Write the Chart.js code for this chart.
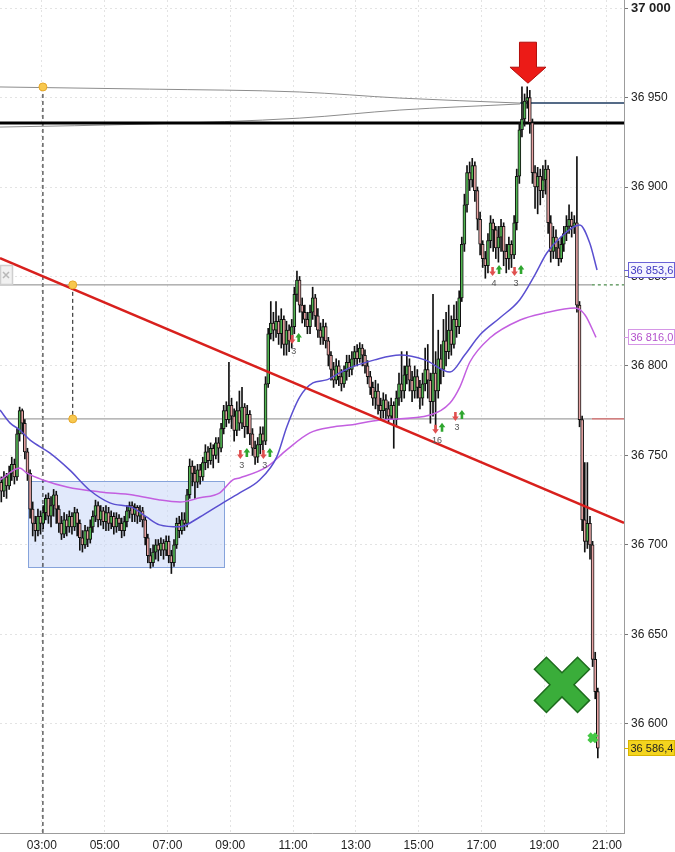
<!DOCTYPE html>
<html>
<head>
<meta charset="utf-8">
<script src="https://cdn.jsdelivr.net/npm/chart.js@4.4.1/dist/chart.umd.min.js"></script>
<style>
  html, body { margin: 0; padding: 0; background: #fff; }
  #wrap { width: 675px; height: 852px; }
</style>
</head>
<body>
<div id="wrap"><canvas id="chart" width="675" height="852"></canvas></div>
<script>
// 5 minute candles, the first one opens at 01:40 (minutes after midnight)
const firstCandleMin = 100;
const candleMinutes = 5;
const firstOpen = 36735;

const closes = [
  36730, 36738, 36733, 36740, 36745, 36738, 36762, 36775, 36768, 36752, 36740, 36720,
  36712, 36708, 36716, 36712, 36718, 36726, 36716, 36722, 36728, 36720, 36712, 36706,
  36714, 36710, 36716, 36710, 36718, 36712, 36704, 36700, 36708, 36703, 36710, 36716,
  36722, 36714, 36719, 36713, 36718, 36712, 36716, 36710, 36715, 36712, 36708, 36713,
  36719, 36722, 36717, 36721, 36716, 36719, 36714, 36704, 36694, 36690, 36696, 36700,
  36697, 36701, 36697, 36702, 36694, 36690, 36700, 36712, 36708, 36714, 36712, 36728,
  36744, 36740, 36735, 36742, 36738, 36746, 36752, 36747, 36754, 36750, 36757, 36754,
  36765, 36775, 36770, 36778, 36772, 36764, 36775, 36768, 36777, 36766, 36773, 36762,
  36754, 36749, 36756, 36762, 36758, 36790, 36818, 36824, 36820, 36825, 36818, 36826,
  36812, 36820, 36814, 36822, 36840, 36848, 36834, 36830, 36826, 36822, 36830, 36838,
  36828, 36820, 36816, 36822, 36814, 36806, 36798, 36792, 36800, 36794, 36790, 36797,
  36802, 36798, 36804, 36808, 36804, 36810, 36806, 36800, 36794, 36788, 36782, 36786,
  36778, 36775, 36781, 36776, 36772, 36778, 36770, 36782, 36790, 36786, 36795, 36800,
  36792, 36786, 36794, 36788, 36782, 36790, 36798, 36792, 36780, 36796, 36786, 36804,
  36798, 36814, 36808, 36820, 36812, 36826, 36822, 36838, 36868, 36890, 36908, 36904,
  36912, 36898, 36882, 36868, 36860, 36856, 36870, 36880, 36876, 36866, 36872, 36878,
  36864, 36860, 36868, 36862, 36880, 36906, 36932, 36938, 36948, 36950, 36936, 36908,
  36900, 36906, 36898, 36904, 36910, 36880, 36864, 36872, 36866, 36860, 36868, 36874,
  36878, 36882, 36878, 36880, 36834, 36770, 36714, 36702, 36712, 36700, 36636, 36618, 36586.4
];
const highs = [
  36738, 36741, 36740, 36744, 36749, 36748, 36765, 36777, 36776, 36770, 36754, 36742,
  36724, 36716, 36720, 36719, 36722, 36728, 36729, 36727, 36731, 36730, 36722, 36716,
  36718, 36717, 36719, 36718, 36721, 36720, 36714, 36708, 36711, 36710, 36714, 36719,
  36725, 36724, 36722, 36721, 36722, 36721, 36719, 36718, 36718, 36717, 36715, 36716,
  36722, 36724, 36724, 36723, 36722, 36722, 36721, 36716, 36706, 36698, 36700, 36703,
  36703, 36704, 36703, 36705, 36705, 36697, 36703, 36715, 36716, 36718, 36718, 36731,
  36748, 36747, 36744, 36745, 36745, 36749, 36756, 36755, 36757, 36756, 36760, 36760,
  36768, 36778, 36780, 36802, 36782, 36776, 36780, 36786, 36788, 36779, 36778, 36775,
  36765, 36758, 36760, 36766, 36766, 36794, 36821, 36836, 36830, 36836, 36828, 36832,
  36828, 36825, 36823, 36826, 36844, 36853, 36850, 36838, 36834, 36830, 36834, 36844,
  36840, 36832, 36824, 36826, 36824, 36816, 36808, 36802, 36804, 36803, 36798, 36800,
  36806, 36806, 36808, 36811, 36812, 36813, 36812, 36809, 36803, 36797, 36791, 36792,
  36790, 36782, 36785, 36784, 36780, 36782, 36780, 36786, 36796, 36808, 36800, 36808,
  36804, 36797, 36800, 36798, 36792, 36796, 36810, 36812, 36796, 36840, 36808, 36820,
  36812, 36826, 36830, 36834, 36828, 36834, 36836, 36842, 36872, 36896, 36912, 36914,
  36916, 36914, 36900, 36886, 36870, 36864, 36874, 36884, 36882, 36878, 36878, 36882,
  36880, 36868, 36872, 36870, 36884, 36910, 36936, 36956, 36952, 36956, 36954, 36938,
  36912, 36911, 36910, 36912, 36915, 36912, 36884, 36878, 36876, 36870, 36872, 36878,
  36884, 36890, 36886, 36884, 36917, 36836, 36772, 36746, 36746, 36716, 36702, 36640, 36620
];
const lows = [
  36724, 36727, 36726, 36731, 36736, 36734, 36736, 36758, 36762, 36748, 36736, 36715,
  36705, 36702, 36705, 36706, 36709, 36714, 36712, 36710, 36716, 36712, 36707, 36703,
  36704, 36705, 36707, 36706, 36708, 36705, 36697, 36696, 36698, 36699, 36701, 36707,
  36713, 36710, 36711, 36709, 36708, 36708, 36709, 36706, 36707, 36708, 36704, 36705,
  36710, 36715, 36713, 36713, 36712, 36713, 36710, 36700, 36690, 36687, 36688, 36692,
  36691, 36694, 36692, 36694, 36690, 36684, 36688, 36698, 36704, 36706, 36708, 36710,
  36726, 36733, 36726, 36732, 36734, 36736, 36742, 36743, 36745, 36743, 36748, 36746,
  36752, 36762, 36766, 36768, 36765, 36758, 36761, 36764, 36765, 36760, 36762, 36756,
  36750, 36745, 36746, 36751, 36752, 36756, 36788, 36815, 36814, 36816, 36812, 36810,
  36806, 36806, 36808, 36810, 36818, 36836, 36830, 36824, 36822, 36818, 36818, 36826,
  36822, 36816, 36812, 36812, 36810, 36800, 36792, 36788, 36790, 36789, 36786, 36788,
  36792, 36794, 36795, 36800, 36800, 36802, 36800, 36796, 36790, 36784, 36778, 36776,
  36773, 36770, 36771, 36770, 36768, 36770, 36754, 36766, 36778, 36780, 36782, 36790,
  36786, 36780, 36782, 36782, 36776, 36778, 36786, 36782, 36768, 36772, 36764, 36782,
  36790, 36794, 36800, 36804, 36806, 36810, 36816, 36818, 36836, 36864, 36886, 36898,
  36900, 36892, 36876, 36862, 36855, 36849, 36852, 36866, 36864, 36860, 36858, 36864,
  36856, 36852, 36854, 36855, 36860, 36876, 36902, 36928, 36934, 36944, 36930, 36902,
  36888, 36885, 36890, 36894, 36896, 36874, 36858, 36860, 36860, 36856, 36858, 36864,
  36870, 36874, 36872, 36874, 36830, 36766, 36708, 36696, 36698, 36692, 36632, 36614, 36581
];

// moving averages (minute of day, price)
const blueMaTimes = [100, 119, 138, 157, 195, 233, 271, 310, 354, 380, 405, 443, 482, 520, 558,
  596, 629, 648, 673, 698, 724, 749, 768, 816, 864, 912, 960, 988, 1017, 1055, 1093, 1122, 1145,
  1170, 1208, 1227, 1241];
const blueMaValues = [36775.4, 36768.2, 36764.2, 36758.7, 36751.4, 36741.9, 36730.7, 36723.5, 36720.7,
  36715.6, 36711.2, 36710.1, 36715.6, 36722.4, 36729.1, 36736.3, 36749.2, 36765.9, 36782.7, 36790.5,
  36792.2, 36796.1, 36798.9, 36803.4, 36806.1, 36803.4, 36796.6, 36806.1, 36817.3, 36826.8, 36836.9,
  36850.8, 36863.1, 36871.5, 36878.8, 36868.7, 36853.6];
const purpleMaTimes = [100, 138, 151, 182, 228, 291, 354, 405, 444, 482, 520, 545, 558, 610, 648,
  692, 736, 769, 826, 922, 960, 979, 998, 1036, 1094, 1141, 1199, 1218, 1239];
const purpleMaValues = [36736.3, 36743.0, 36740.2, 36736.3, 36732.4, 36729.6, 36727.9, 36725.1, 36724.0,
  36726.3, 36729.1, 36736.3, 36737.4, 36743.6, 36753.1, 36762.6, 36765.9, 36767.0, 36769.8, 36772.6,
  36779.3, 36788.3, 36802.2, 36815.6, 36825.7, 36829.6, 36832.4, 36828.5, 36816.0];

const priceTicks = [36600, 36650, 36700, 36750, 36800, 36850, 36900, 36950, 37000];
const timeTicks = [180, 300, 420, 540, 660, 780, 900, 1020, 1140, 1260];
const timeTickLabels = ['03:00', '05:00', '07:00', '09:00', '11:00', '13:00', '15:00', '17:00', '19:00', '21:00'];

// drawing tools on the chart
const axisStart = 100;
const axisEnd = 1292.5;
const priceMin = 36539;
const priceMax = 37004.5;
const blackLevel = 36935.8;
const navyLevel = 36946.9;
const navyFrom = 1094;
const upperLevel = 36845.3;
const lowerLevel = 36770.4;
const levelTailFrom = 1231;
const trendTimes = [100, 1292.5];
const trendValues = [36860.3, 36712.3];
const fanTimes = [100, 386, 673, 864, 1094];
const fanUpper = [36955.9, 36954.7, 36953.1, 36949.7, 36946.9];
const fanLower = [36933.5, 36935.2, 36938.5, 36943.0, 36946.4];
const anchorTimes = [182, 239, 239];
const anchorValues = [36955.9, 36845.3, 36770.4];
const rangeBox = { from: 153, to: 528, low: 36687.7, high: 36735.8 };
const signalTimes = [566, 610, 665, 1048, 1090, 939, 977];
const signalValues = [36751.4, 36751.4, 36815.6, 36853.6, 36853.6, 36765.4, 36772.6];
const signalCounts = ['3', '3', '3', '4', '3', '16', '3'];
const sellArrow = { t: 1109, price: 36958 };
const bigCross = { t: 1174, price: 36621.8 };
const smallCross = { t: 1233, price: 36592.2 };

const FONT = '"Liberation Sans", Arial, sans-serif';

const candleTimes = closes.map((c, i) => firstCandleMin + candleMinutes * i + candleMinutes / 2);
const opens = closes.map((c, i) => (i === 0 ? firstOpen : closes[i - 1]));

function seg(t0, t1, v0, v1) {
  return [{ x: t0, y: v0 }, { x: t1, y: v1 }];
}
function pairs(ts, vs) {
  return ts.map((t, i) => ({ x: t, y: vs[i] }));
}
function fmt(v, dec) {
  const s = dec ? v.toFixed(dec).replace('.', ',') : String(v);
  return s.replace(/^(\d+)(\d{3})/, '$1 $2');
}

function lineSet(data, color, width, extra) {
  return Object.assign({
    type: 'line', data, borderColor: color, borderWidth: width,
    pointRadius: 0, fill: false, order: 8
  }, extra || {});
}

function drawCross(ctx, cx, cy, a, t, fill, stroke) {
  const pts = [[t, t], [t, a], [-t, a], [-t, t], [-a, t], [-a, -t], [-t, -t], [-t, -a], [t, -a], [t, -t], [a, -t], [a, t]];
  const c = Math.SQRT1_2;
  ctx.beginPath();
  pts.forEach(([px, py], i) => {
    const rx = cx + (px - py) * c, ry = cy + (px + py) * c;
    if (i === 0) ctx.moveTo(rx, ry); else ctx.lineTo(rx, ry);
  });
  ctx.closePath();
  ctx.fillStyle = fill;
  ctx.fill();
  if (stroke) { ctx.strokeStyle = stroke; ctx.lineWidth = 1.5; ctx.stroke(); }
}

function smallArrow(ctx, x, y, dir, color) {
  const h = 4.5;
  ctx.beginPath();
  ctx.moveTo(x - 1.3, y - dir * h);
  ctx.lineTo(x + 1.3, y - dir * h);
  ctx.lineTo(x + 1.3, y);
  ctx.lineTo(x + 3.3, y);
  ctx.lineTo(x, y + dir * h);
  ctx.lineTo(x - 3.3, y);
  ctx.lineTo(x - 1.3, y);
  ctx.closePath();
  ctx.fillStyle = color;
  ctx.fill();
}

function priceTag(ctx, y, text, fill, stroke, color) {
  const top = Math.round(y) - 7.5;
  ctx.fillStyle = stroke;
  ctx.fillRect(624, Math.round(y), 4, 1);
  ctx.fillStyle = fill;
  ctx.fillRect(628.5, top, 46, 15);
  ctx.strokeStyle = stroke;
  ctx.lineWidth = 1;
  ctx.strokeRect(628.5, top, 46, 15);
  ctx.fillStyle = color;
  ctx.font = '11px ' + FONT;
  ctx.textAlign = 'left';
  ctx.textBaseline = 'middle';
  ctx.fillText(text, 630.5, y + 0.5);
}

const overlay = {
  id: 'overlay',
  beforeDatasetsDraw(chart) {
    const { ctx, scales: { x, y } } = chart;
    const x1 = Math.round(x.getPixelForValue(rangeBox.from)) + 0.5;
    const x2 = Math.round(x.getPixelForValue(rangeBox.to)) + 0.5;
    const y1 = Math.round(y.getPixelForValue(rangeBox.high)) + 0.5;
    const y2 = Math.round(y.getPixelForValue(rangeBox.low)) + 0.5;
    ctx.save();
    ctx.fillStyle = 'rgba(200, 215, 248, 0.55)';
    ctx.fillRect(x1, y1, x2 - x1, y2 - y1);
    ctx.strokeStyle = '#86a3db';
    ctx.lineWidth = 1;
    ctx.strokeRect(x1, y1, x2 - x1, y2 - y1);
    ctx.restore();
  },
  afterDatasetsDraw(chart) {
    const { ctx, scales: { x, y } } = chart;
    ctx.save();
    // signal arrows with counts
    signalTimes.forEach((t, i) => {
      const cx = x.getPixelForValue(t), cy = y.getPixelForValue(signalValues[i]);
      smallArrow(ctx, cx - 3.5, cy + 1.5, 1, '#e0504f');
      smallArrow(ctx, cx + 3, cy - 0.5, -1, '#2fa62f');
      ctx.fillStyle = '#555';
      ctx.font = '9px ' + FONT;
      ctx.textAlign = 'center';
      ctx.textBaseline = 'middle';
      ctx.fillText(signalCounts[i], cx - 2, cy + 13);
    });
    // big sell arrow
    const ax = x.getPixelForValue(sellArrow.t), ay = y.getPixelForValue(sellArrow.price);
    ctx.beginPath();
    ctx.moveTo(ax - 8.5, ay - 41);
    ctx.lineTo(ax + 8.5, ay - 41);
    ctx.lineTo(ax + 8.5, ay - 16);
    ctx.lineTo(ax + 18, ay - 16);
    ctx.lineTo(ax, ay);
    ctx.lineTo(ax - 18, ay - 16);
    ctx.lineTo(ax - 8.5, ay - 16);
    ctx.closePath();
    ctx.fillStyle = '#ec1b17';
    ctx.fill();
    ctx.strokeStyle = '#b30d0a';
    ctx.lineWidth = 1;
    ctx.stroke();
    // crosses
    drawCross(ctx, x.getPixelForValue(bigCross.t), y.getPixelForValue(bigCross.price), 30.5, 8.5, '#3aad3a', '#1d6b1d');
    drawCross(ctx, x.getPixelForValue(smallCross.t), y.getPixelForValue(smallCross.price), 5.4, 2.4, '#46c846', null);
    // close box of the drawing tool
    ctx.fillStyle = '#f1f1f1';
    ctx.fillRect(0, 265, 12, 19);
    ctx.strokeStyle = '#cfcfcf';
    ctx.strokeRect(0.5, 265.5, 12, 19);
    ctx.strokeStyle = '#b8b8b8';
    ctx.lineWidth = 1.5;
    ctx.beginPath();
    ctx.moveTo(3, 272); ctx.lineTo(9, 278); ctx.moveTo(9, 272); ctx.lineTo(3, 278);
    ctx.stroke();
    ctx.restore();
  },
  afterDraw(chart) {
    const { ctx, scales: { y } } = chart;
    ctx.save();
    const lastBlue = blueMaValues[blueMaValues.length - 1];
    const lastPurple = purpleMaValues[purpleMaValues.length - 1];
    const lastClose = closes[closes.length - 1];
    priceTag(ctx, y.getPixelForValue(lastBlue), fmt(lastBlue, 1), '#f5f5ff', '#6a62d6', '#3f37c0');
    priceTag(ctx, y.getPixelForValue(lastPurple), fmt(lastPurple, 1), '#ffffff', '#d596e6', '#b352cc');
    priceTag(ctx, y.getPixelForValue(lastClose), fmt(lastClose, 1), '#f3d41e', '#d8b400', '#222');
    ctx.restore();
  }
};

const datasets = [
  {
    type: 'bar', label: 'wicks',
    data: candleTimes.map((t, i) => ({ x: t, y: [Math.min(lows[i], opens[i], closes[i]), Math.max(highs[i], opens[i], closes[i])] })),
    backgroundColor: '#111', barThickness: 1, grouped: false, order: 6
  },
  {
    type: 'bar', label: 'bodies',
    data: candleTimes.map((t, i) => ({ x: t, y: [opens[i], closes[i]] })),
    backgroundColor: closes.map((c, i) => (c >= opens[i] ? '#52b552' : '#e7a3a3')),
    borderColor: '#111', borderWidth: 1, borderSkipped: false, barThickness: 3,
    minBarLength: 1, grouped: false, order: 5
  },
  lineSet(seg(axisStart, axisEnd, blackLevel, blackLevel), '#000', 3),
  lineSet(seg(navyFrom, axisEnd, navyLevel, navyLevel), '#1d3a5f', 1.5),
  lineSet(pairs(fanTimes, fanUpper), '#8c8c8c', 1, { cubicInterpolationMode: 'monotone' }),
  lineSet(pairs(fanTimes, fanLower), '#8c8c8c', 1, { cubicInterpolationMode: 'monotone' }),
  lineSet(seg(axisStart, levelTailFrom, upperLevel, upperLevel), '#858585', 1),
  lineSet(seg(levelTailFrom, axisEnd, upperLevel, upperLevel), '#1f6f1f', 1, { borderDash: [3, 3] }),
  lineSet(seg(axisStart, levelTailFrom, lowerLevel, lowerLevel), '#8a8a8a', 1),
  lineSet(seg(levelTailFrom, axisEnd, lowerLevel, lowerLevel), '#b02a2a', 1),
  lineSet(seg(anchorTimes[0], anchorTimes[0], anchorValues[0], priceMin), '#111', 1, { borderDash: [4, 3] }),
  lineSet(seg(anchorTimes[1], anchorTimes[2], anchorValues[1], anchorValues[2]), '#111', 1, { borderDash: [4, 3] }),
  lineSet(pairs(blueMaTimes, blueMaValues), '#5a4fd0', 1.5, { cubicInterpolationMode: 'monotone', order: 2 }),
  lineSet(pairs(purpleMaTimes, purpleMaValues), '#c35fe0', 1.5, { cubicInterpolationMode: 'monotone', order: 2 }),
  lineSet(pairs(trendTimes, trendValues), '#d8201d', 2.5, { order: 1 }),
  {
    type: 'line', data: pairs(anchorTimes, anchorValues), showLine: false,
    pointRadius: 4, pointBackgroundColor: '#f8c84e', pointBorderColor: '#e5a72a', pointBorderWidth: 1, order: 0
  }
];

new Chart(document.getElementById('chart'), {
  type: 'bar',
  data: { datasets },
  plugins: [overlay],
  options: {
    responsive: false,
    animation: false,
    events: [],
    devicePixelRatio: 1,
    layout: { padding: 0, autoPadding: false },
    plugins: { legend: { display: false }, tooltip: { enabled: false } },
    scales: {
      x: {
        type: 'linear', min: axisStart, max: axisEnd, offset: false,
        afterBuildTicks: (scale) => { scale.ticks = timeTicks.map((v) => ({ value: v })); },
        afterFit: (scale) => {
          scale.height = 19;
          scale.paddingLeft = 0;
          scale.paddingRight = 0;
        },
        grid: { color: '#e3e3e3', drawTicks: false, offset: false },
        border: { color: '#9c9c9c', dash: [2, 3] },
        ticks: {
          autoSkip: false, maxRotation: 0, padding: 5, color: '#222',
          font: { family: FONT, size: 12 },
          callback: (v, i) => timeTickLabels[i]
        }
      },
      y: {
        type: 'linear', position: 'right', min: priceMin, max: priceMax,
        afterBuildTicks: (scale) => { scale.ticks = priceTicks.map((v) => ({ value: v })); },
        afterFit: (scale) => {
          scale.width = 51;
          scale.paddingTop = 0;
          scale.paddingBottom = 0;
        },
        grid: { color: '#e3e3e3', tickLength: 4, tickColor: '#777' },
        border: { color: '#9c9c9c', dash: [2, 3] },
        ticks: {
          padding: 3, color: '#222',
          font: (c) => (c.tick && c.tick.value === 37000
            ? { family: FONT, size: 13, weight: 'bold' }
            : { family: FONT, size: 12 }),
          callback: (v) => fmt(v)
        }
      }
    }
  }
});
</script>
</body>
</html>
